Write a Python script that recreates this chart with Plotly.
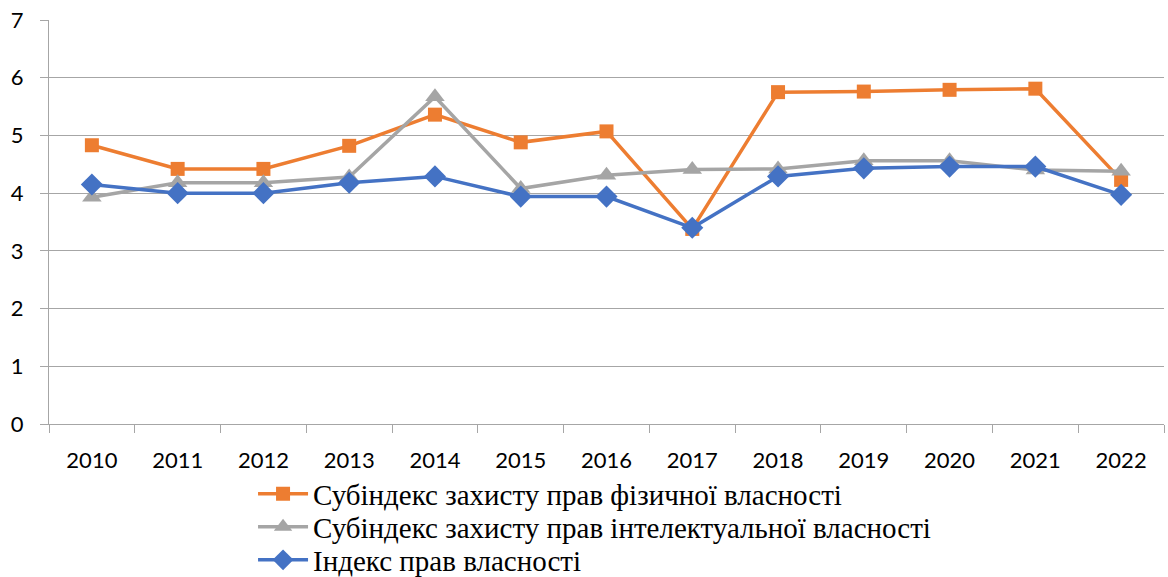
import plotly.graph_objects as go

years = ["2010", "2011", "2012", "2013", "2014", "2015", "2016",
         "2017", "2018", "2019", "2020", "2021", "2022"]
physical = [4.83, 4.42, 4.42, 4.82, 5.36, 4.88, 5.07, 3.38, 5.75, 5.76, 5.79, 5.81, 4.23]
intellectual = [3.93, 4.18, 4.18, 4.28, 5.67, 4.08, 4.31, 4.41, 4.42, 4.56, 4.56, 4.40, 4.38]
index_total = [4.15, 4.00, 4.00, 4.18, 4.29, 3.94, 3.94, 3.40, 4.29, 4.43, 4.46, 4.46, 3.97]

names = ["Субіндекс захисту прав фізичної власності",
         "Субіндекс захисту прав інтелектуальної власності",
         "Індекс прав власності"]
colors = ["#ED7D31", "#A5A5A5", "#4472C4"]
symbols = ["square", "triangle-up", "diamond"]
sizes = [14, 17, 17]

fig = go.Figure()
for i, (vals, nm) in enumerate(zip([physical, intellectual, index_total], names)):
    fig.add_trace(go.Scatter(
        x=years, y=vals, name=nm, mode="lines+markers",
        line=dict(color=colors[i], width=3.5),
        marker=dict(symbol=symbols[i], size=sizes[i], color=colors[i]),
        legend="legend" if i == 0 else f"legend{i+1}",
        showlegend=True,
    ))

serif = "Liberation Serif"
leg_common = dict(font=dict(family=serif, size=29, color="#000000"),
                  bgcolor="rgba(0,0,0,0)", x=0.183, xanchor="left",
                  yanchor="middle", itemwidth=50)
fig.update_layout(
    width=1168, height=577,
    showlegend=True,
    margin=dict(l=49, r=4, t=20, b=153, autoexpand=False),
    paper_bgcolor="white", plot_bgcolor="white",
    font=dict(family="Lato", size=22, color="#000000"),
    legend=dict(y=-0.1733, **leg_common),
    legend2=dict(y=-0.255, **leg_common),
    legend3=dict(y=-0.3366, **leg_common),
    xaxis=dict(type="category", range=[-0.5, len(years) - 0.5],
               showgrid=False, showline=True,
               linecolor="#A6A6A6", linewidth=1, ticks="outside",
               tickson="boundaries", ticklen=8, tickcolor="#A6A6A6",
               ticklabelstandoff=17, fixedrange=True, automargin=False),
    yaxis=dict(range=[0, 7], dtick=1, showgrid=True, gridcolor="#A6A6A6",
               gridwidth=1, showline=True, linecolor="#A6A6A6", linewidth=1,
               ticks="outside", ticklen=8, tickcolor="#A6A6A6",
               ticklabelstandoff=12, zeroline=False, fixedrange=True,
               automargin=False),
)

fig.write_html("out.html", config={"displayModeBar": False},
               post_script="document.body.style.margin='0';")
